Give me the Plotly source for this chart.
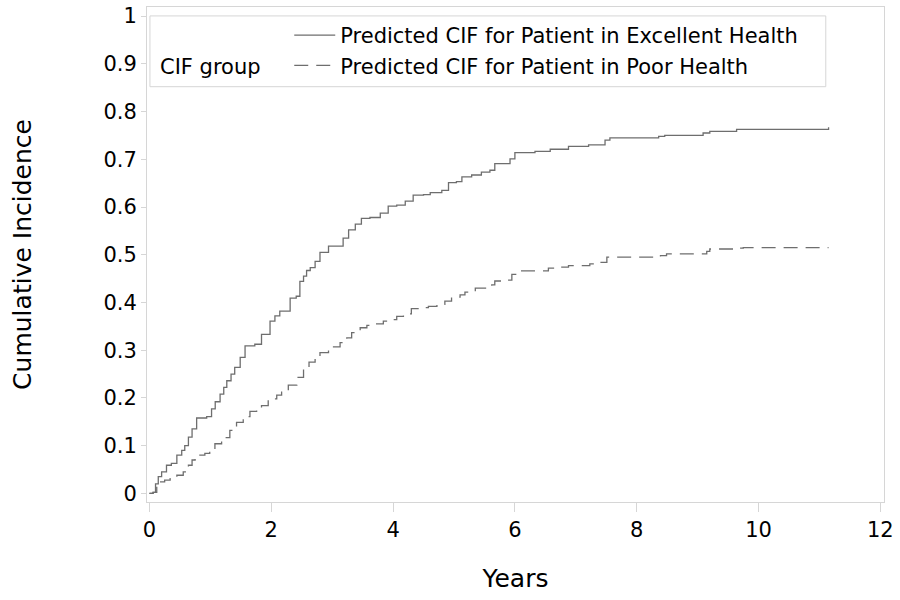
import plotly.graph_objects as go

# step points (years, cumulative incidence)
excellent_t = [0, 0.06, 0.10, 0.145, 0.20, 0.28, 0.36, 0.45, 0.53, 0.58, 0.64, 0.70, 0.775, 0.94,
               1.02, 1.08, 1.16, 1.22, 1.27, 1.34, 1.40, 1.49, 1.57, 1.73, 1.84, 1.98, 2.06, 2.14,
               2.31, 2.41, 2.47, 2.53, 2.58, 2.64, 2.72, 2.80, 2.94, 3.18, 3.27, 3.38, 3.48, 3.62,
               3.79, 3.92, 4.06, 4.20, 4.33, 4.50, 4.61, 4.80, 4.91, 5.04, 5.13, 5.29, 5.45, 5.59,
               5.67, 5.92, 6.00, 6.33, 6.58, 6.88, 7.21, 7.48, 7.56, 8.36, 8.46, 9.09, 9.20, 9.64,
               11.15]
excellent_cif = [0, 0.002, 0.020, 0.035, 0.045, 0.059, 0.063, 0.080, 0.090, 0.100, 0.118, 0.135,
                 0.158, 0.161, 0.177, 0.192, 0.208, 0.222, 0.236, 0.250, 0.264, 0.285, 0.309, 0.3125,
                 0.333, 0.361, 0.372, 0.382, 0.409, 0.413, 0.444, 0.455, 0.467, 0.473, 0.486, 0.505,
                 0.518, 0.535, 0.552, 0.564, 0.576, 0.578, 0.587, 0.602, 0.604, 0.6125, 0.625, 0.626,
                 0.630, 0.635, 0.651, 0.653, 0.663, 0.667, 0.673, 0.677, 0.691, 0.701, 0.714, 0.7165,
                 0.721, 0.727, 0.730, 0.740, 0.745, 0.748, 0.750, 0.755, 0.7585, 0.7625, 0.767]

poor_t = [0, 0.06, 0.12, 0.17, 0.25, 0.34, 0.45, 0.555, 0.64, 0.70, 0.75, 0.91, 0.99, 1.075, 1.185,
          1.32, 1.43, 1.54, 1.65, 1.76, 1.84, 1.95, 2.09, 2.17, 2.28, 2.42, 2.53, 2.62, 2.72, 2.80,
          2.94, 3.13, 3.24, 3.32, 3.46, 3.57, 3.73, 3.84, 3.92, 4.06, 4.17, 4.30, 4.44, 4.58, 4.72,
          4.85, 4.96, 5.10, 5.18, 5.35, 5.62, 5.67, 5.84, 5.95, 6.03, 6.55, 6.74, 6.88, 7.23, 7.40,
          7.51, 8.39, 8.49, 9.15, 9.20, 9.61, 9.75, 11.15]
poor_cif = [0, 0.002, 0.015, 0.024, 0.028, 0.031, 0.038, 0.045, 0.059, 0.070, 0.080, 0.084, 0.093,
            0.104, 0.117, 0.132, 0.149, 0.161, 0.172, 0.175, 0.184, 0.198, 0.206, 0.212, 0.227, 0.243,
            0.264, 0.275, 0.284, 0.295, 0.307, 0.316, 0.326, 0.337, 0.347, 0.352, 0.355, 0.361, 0.364,
            0.371, 0.376, 0.387, 0.389, 0.392, 0.396, 0.403, 0.411, 0.416, 0.4215, 0.430, 0.437, 0.445,
            0.447, 0.459, 0.466, 0.472, 0.474, 0.477, 0.481, 0.484, 0.495, 0.498, 0.502, 0.507, 0.512,
            0.514, 0.515, 0.515]

x_ticks = [0, 2, 4, 6, 8, 10, 12]
y_ticks = [0, 0.1, 0.2, 0.3, 0.4, 0.5, 0.6, 0.7, 0.8, 0.9, 1]
y_labels = ["0", "0.1", "0.2", "0.3", "0.4", "0.5", "0.6", "0.7", "0.8", "0.9", "1"]

FONT = "DejaVu Sans"
GRID = "#d6d6d6"
LINE = "#6e6e6e"

fig = go.Figure()
fig.add_trace(go.Scatter(x=excellent_t, y=excellent_cif, mode="lines", line_shape="hv",
                         line=dict(color=LINE, width=1.3),
                         name="Predicted CIF for Patient in Excellent Health"))
fig.add_trace(go.Scatter(x=poor_t, y=poor_cif, mode="lines", line_shape="hv",
                         line=dict(color=LINE, width=1.3, dash="14px,8px"),
                         name="Predicted CIF for Patient in Poor Health"))

fig.update_layout(
    width=900, height=600,
    margin=dict(l=147, r=16, t=4, b=98),
    plot_bgcolor="white", paper_bgcolor="white",
    font=dict(family=FONT, size=21, color="black"),
    showlegend=True,
    legend=dict(x=0.193, y=0.984, xanchor="left", yanchor="top",
                bgcolor="rgba(0,0,0,0)", font=dict(size=21), itemwidth=41,
                tracegroupgap=0),
    xaxis=dict(range=[-0.04, 12.06], tickvals=x_ticks, ticks="outside", ticklen=9,
               tickcolor=GRID, showline=True, linecolor=GRID, mirror=True,
               showgrid=False, zeroline=False, ticklabeloverflow="allow",
               title=dict(text="Years", standoff=28)),
    yaxis=dict(range=[-0.018, 1.019], tickvals=y_ticks, ticktext=y_labels, ticks="outside",
               ticklen=5, tickcolor=GRID, showline=True, linecolor=GRID, mirror=True,
               showgrid=False, zeroline=False, ticklabeloverflow="allow",
               title=dict(text="Cumulative Incidence", standoff=64)),
    shapes=[dict(type="rect", xref="paper", yref="paper", x0=0.004, x1=0.921, y0=0.839, y1=0.982,
                 line=dict(color=GRID, width=1), fillcolor="rgba(0,0,0,0)")],
    annotations=[dict(text="CIF group", xref="paper", yref="paper", x=0.0149, y=0.8795,
                      xanchor="left", yanchor="middle", showarrow=False, font=dict(size=21))],
)

fig.write_html("out.html", config={"displayModeBar": False},
               post_script="document.body.style.margin='0';")
